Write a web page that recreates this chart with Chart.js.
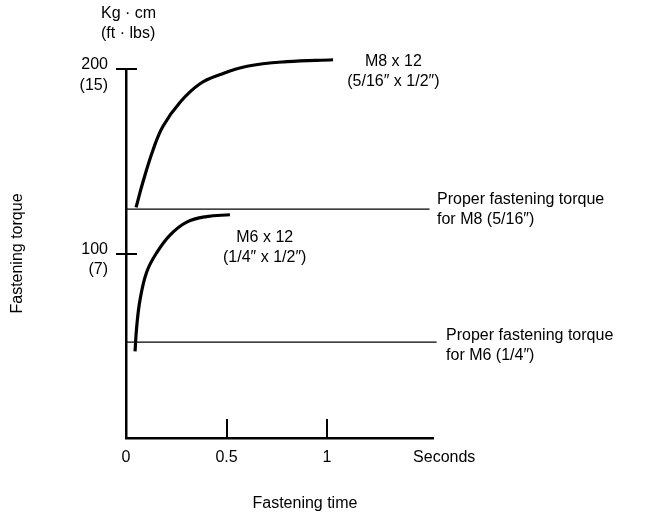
<!DOCTYPE html>
<html lang="en">
<head>
<meta charset="utf-8" />
<title>Fastening torque</title>
<script src="https://cdn.jsdelivr.net/npm/chart.js@4.4.1/dist/chart.umd.min.js"></script>
<style>
  html, body { margin: 0; padding: 0; background: #fff; }
</style>
</head>
<body>
<canvas id="torque_chart" width="646" height="516"></canvas>
<script>
// M8 x 12 bolt: torque vs time (Kg.cm)
const m8Time   = [0.05, 0.085, 0.134, 0.184, 0.269, 0.368, 0.468, 0.602, 0.80, 1.03];
const m8Torque = [125, 139, 156, 169, 182, 192, 197, 201.5, 204, 205];
// M6 x 12 bolt
const m6Time   = [0.045, 0.053, 0.07, 0.103, 0.153, 0.219, 0.302, 0.40, 0.517];
const m6Torque = [47, 60, 75, 90, 100.5, 110, 117, 120, 121];
// proper fastening torque levels
const properM8 = 124;
const properM6 = 52;
const properM8End = 1.51;
const properM6End = 1.545;

const xTickValues = [0, 0.5, 1];
const xTickLabels = ["0", "0.5", "1"];
const yTickValues = [100, 200];
const yTickLabels = [["100", "(7)"], ["200", "(15)"]];

const FONT = "'Liberation Sans', 'DejaVu Sans', sans-serif";

function toPoints(xs, ys) {
  return xs.map((x, i) => ({ x: x, y: ys[i] }));
}

// tick marks crossing the axes + free text labels
const notes = {
  id: "notes",
  afterDraw(chart) {
    const ctx = chart.ctx;
    const xs = chart.scales.x, ys = chart.scales.y;
    const area = chart.chartArea;
    ctx.save();
    ctx.strokeStyle = "#000";
    ctx.lineWidth = 2;
    yTickValues.forEach((v) => {
      const py = Math.round(ys.getPixelForValue(v));
      ctx.beginPath();
      ctx.moveTo(area.left - 10, py);
      ctx.lineTo(area.left + 11, py);
      ctx.stroke();
    });
    xTickValues.filter((v) => v > 0).forEach((v) => {
      const px = Math.round(xs.getPixelForValue(v));
      ctx.beginPath();
      ctx.moveTo(px, area.bottom);
      ctx.lineTo(px, area.bottom - 19);
      ctx.stroke();
    });

    ctx.fillStyle = "#000";
    ctx.font = "16px " + FONT;
    ctx.textBaseline = "middle";
    function text(lines, x, y, align) {
      ctx.textAlign = align;
      lines.forEach((l, i) => ctx.fillText(l, x, y + i * 20));
    }
    // unit label above the y axis
    text(["Kg · cm", "(ft · lbs)"], area.left - 25, area.top - 55, "left");
    text(["M8 x 12", "(5/16″ x 1/2″)"], xs.getPixelForValue(1.33), ys.getPixelForValue(204), "center");
    text(["M6 x 12", "(1/4″ x 1/2″)"], xs.getPixelForValue(0.69), ys.getPixelForValue(108.5), "center");
    text(["Proper fastening torque", "for M8 (5/16″)"], xs.getPixelForValue(1.547), ys.getPixelForValue(129), "left");
    text(["Proper fastening torque", "for M6 (1/4″)"], xs.getPixelForValue(1.592), ys.getPixelForValue(55.5), "left");
    text(["Seconds"], xs.getPixelForValue(1.428), area.bottom + 20, "left");
    text(["Fastening time"], xs.getPixelForValue(0.89), area.bottom + 66, "center");
    ctx.restore();
  }
};

const curveStyle = {
  borderColor: "#000",
  borderWidth: 3.2,
  pointRadius: 0,
  tension: 0.4,
  clip: false
};
const levelStyle = {
  borderColor: "#000",
  borderWidth: 1.2,
  pointRadius: 0,
  clip: false
};

new Chart(document.getElementById("torque_chart"), {
  type: "line",
  data: {
    datasets: [
      Object.assign({ label: "M8 x 12", data: toPoints(m8Time, m8Torque) }, curveStyle),
      Object.assign({ label: "M6 x 12", data: toPoints(m6Time, m6Torque) }, curveStyle),
      Object.assign({ label: "Proper M8", data: toPoints([0, properM8End], [properM8, properM8]) }, levelStyle),
      Object.assign({ label: "Proper M6", data: toPoints([0, properM6End], [properM6, properM6]) }, levelStyle)
    ]
  },
  options: {
    responsive: false,
    animation: false,
    layout: { padding: { top: 69, right: 213, bottom: 0, left: 0 } },
    plugins: { legend: { display: false }, tooltip: { enabled: false } },
    scales: {
      x: {
        type: "linear",
        min: 0,
        max: 1.527,
        afterBuildTicks: (s) => { s.ticks = xTickValues.map((v) => ({ value: v })); },
        afterFit: (s) => { s.height = 78; },
        grid: { display: false, drawTicks: false },
        border: { display: true, color: "#000", width: 2.5 },
        ticks: {
          color: "#000",
          font: { family: FONT, size: 16 },
          padding: 10,
          maxRotation: 0,
          callback: (v) => xTickLabels[xTickValues.indexOf(v)]
        }
      },
      y: {
        type: "linear",
        min: 0,
        max: 200,
        afterBuildTicks: (s) => { s.ticks = yTickValues.map((v) => ({ value: v })); },
        afterFit: (s) => { s.width = 126; },
        grid: { display: false, drawTicks: false },
        border: { display: true, color: "#000", width: 2.5 },
        ticks: {
          color: "#000",
          font: { family: FONT, size: 16, lineHeight: 1.3 },
          padding: 18,
          labelOffset: 6,
          callback: (v) => yTickLabels[yTickValues.indexOf(v)]
        },
        title: {
          display: true,
          text: "Fastening torque",
          color: "#000",
          font: { family: FONT, size: 16 },
          padding: { top: 8, bottom: 0 }
        }
      }
    }
  },
  plugins: [notes]
});
</script>
</body>
</html>
